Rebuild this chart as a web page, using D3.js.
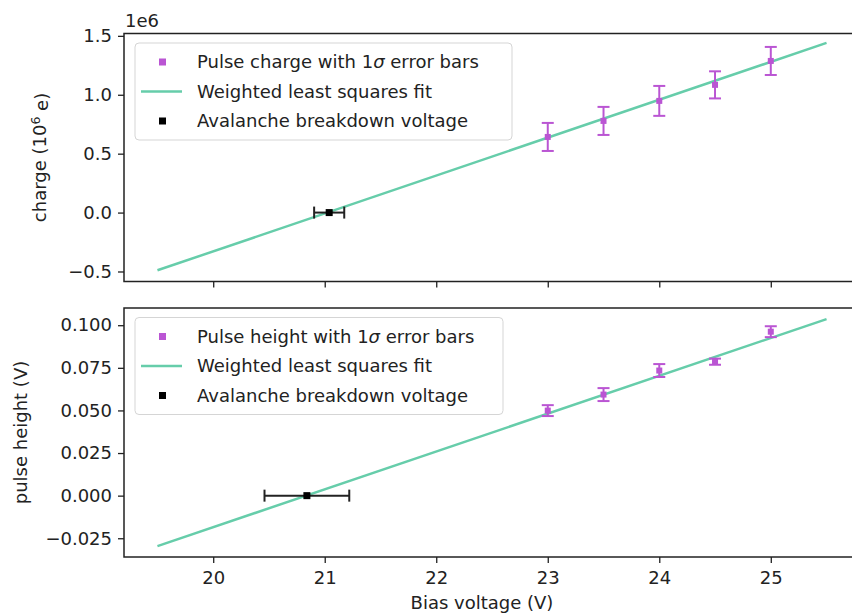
<!DOCTYPE html>
<html>
<head>
<meta charset="utf-8">
<script src="https://cdn.jsdelivr.net/npm/d3@7"></script>
<style>
body { margin: 0; background: #fff; }
text { font-family: "DejaVu Sans", sans-serif; fill: #222; }
</style>
</head>
<body>
<div id="area1"></div>
<script>
// bias voltages (V)
var voltages = [23, 23.5, 24, 24.5, 25];

// top panel: pulse charge in units of 1e6 e
var charge = [0.642, 0.778, 0.948, 1.084, 1.287];
var chargeErr = [0.119, 0.119, 0.127, 0.115, 0.119];
var chargeFitX = [19.5, 25.5];
var chargeFitY = [-0.49, 1.44];
var chargeBreakdown = [21.04];
var chargeBreakdownErr = [0.135];

// bottom panel: pulse height in V
var height = [0.0499, 0.0593, 0.0734, 0.0786, 0.0962];
var heightErr = [0.0032, 0.0038, 0.0038, 0.0018, 0.0032];
var heightFitX = [19.5, 25.5];
var heightFitY = [-0.0296, 0.1036];
var heightBreakdown = [20.84];
var heightBreakdownErr = [0.38];

var xTicks = [20, 21, 22, 23, 24, 25];
var chargeTicks = [-0.5, 0.0, 0.5, 1.0, 1.5];
var heightTicks = [-0.025, 0.000, 0.025, 0.050, 0.075, 0.100];

var legendTop = ["Pulse charge with 1", "Weighted least squares fit", "Avalanche breakdown voltage"];
var legendBottom = ["Pulse height with 1", "Weighted least squares fit", "Avalanche breakdown voltage"];

var purple = "#ba55d3";
var green = "#66cdaa";
var ink = "#222";

var svg = d3.select("#area1")
	.append("svg")
	.attr("width", 852)
	.attr("height", 615);

var x = d3.scaleLinear().domain([19.2, 25.8]).range([124, 860]);

function panel(top, bottom, yDomain, ticks, fmt, ys, errs, fitY, bx, bxErr, legendText) {
	var y = d3.scaleLinear().domain(yDomain).range([bottom, top]);
	var g = svg.append("g");

	// y axis
	var ya = g.append("g")
		.attr("transform", "translate(124,0)")
		.call(d3.axisLeft(y).tickValues(ticks).tickFormat(fmt).tickSize(6).tickPadding(6));
	// x axis ticks
	var xa = g.append("g")
		.attr("transform", "translate(0," + bottom + ")")
		.call(d3.axisBottom(x).tickValues(xTicks).tickFormat(d3.format("d")).tickSize(6).tickPadding(8));
	[ya, xa].forEach(function(a) {
		a.select(".domain").remove();
		a.selectAll("line").attr("stroke", ink).attr("stroke-width", 1.3);
		a.selectAll("text").style("font-size", "18px").attr("fill", ink);
	});
	if (legendText[0].indexOf("charge") > -1) {
		xa.selectAll("text").remove();
	}

	// fit line
	g.append("path")
		.datum(d3.zip(chargeFitX, fitY))
		.attr("d", d3.line().x(function(d) { return x(d[0]); }).y(function(d) { return y(d[1]); }))
		.attr("fill", "none")
		.attr("stroke", green)
		.attr("stroke-width", 2.5);

	// error bars for data
	var pts = d3.zip(voltages, ys, errs);
	var eb = g.selectAll(".eb").data(pts).enter().append("g");
	eb.append("line")
		.attr("x1", function(d) { return x(d[0]); })
		.attr("x2", function(d) { return x(d[0]); })
		.attr("y1", function(d) { return y(d[1] - d[2]); })
		.attr("y2", function(d) { return y(d[1] + d[2]); })
		.attr("stroke", purple).attr("stroke-width", 2);
	[-1, 1].forEach(function(s) {
		eb.append("line")
			.attr("x1", function(d) { return x(d[0]) - 6; })
			.attr("x2", function(d) { return x(d[0]) + 6; })
			.attr("y1", function(d) { return y(d[1] + s * d[2]); })
			.attr("y2", function(d) { return y(d[1] + s * d[2]); })
			.attr("stroke", purple).attr("stroke-width", 2);
	});
	eb.append("rect")
		.attr("x", function(d) { return x(d[0]) - 3; })
		.attr("y", function(d) { return y(d[1]) - 3; })
		.attr("width", 6).attr("height", 6)
		.attr("fill", purple);

	// breakdown voltage point
	var bd = g.selectAll(".bd").data(d3.zip(bx, bxErr)).enter().append("g");
	bd.append("line")
		.attr("x1", function(d) { return x(d[0] - d[1]); })
		.attr("x2", function(d) { return x(d[0] + d[1]); })
		.attr("y1", y(0)).attr("y2", y(0))
		.attr("stroke", ink).attr("stroke-width", 2);
	[-1, 1].forEach(function(s) {
		bd.append("line")
			.attr("x1", function(d) { return x(d[0] + s * d[1]); })
			.attr("x2", function(d) { return x(d[0] + s * d[1]); })
			.attr("y1", y(0) - 6).attr("y2", y(0) + 6)
			.attr("stroke", ink).attr("stroke-width", 2);
	});
	bd.append("rect")
		.attr("x", function(d) { return x(d[0]) - 3.5; })
		.attr("y", y(0) - 3.5)
		.attr("width", 7).attr("height", 7)
		.attr("fill", "#000");

	// frame
	g.append("rect")
		.attr("x", 124).attr("y", top)
		.attr("width", x.range()[1] - 124).attr("height", bottom - top)
		.attr("fill", "none").attr("stroke", ink).attr("stroke-width", 1.5);

	// legend
	var lg = g.append("g").attr("transform", "translate(135," + (top + 9.5) + ")");
	var lw = legendText[0].indexOf("charge") > -1 ? 377 : 368;
	lg.append("rect")
		.attr("width", lw).attr("height", 97).attr("rx", 4)
		.attr("fill", "#fff").attr("fill-opacity", 0.8)
		.attr("stroke", "#d5d5d5");
	var rows = lg.selectAll(".row").data(legendText).enter().append("g")
		.attr("transform", function(d, i) { return "translate(0," + (19 + i * 29.5) + ")"; });
	rows.append("text")
		.attr("x", 62).attr("dy", "0.35em")
		.style("font-size", "18px")
		.text(function(d) { return d; })
		.filter(function(d, i) { return i == 0; })
		.each(function() {
			var t = d3.select(this);
			t.append("tspan").style("font-style", "italic").text("\u03c3");
			t.append("tspan").text(" error bars");
		});
	rows.filter(function(d, i) { return i == 0; }).append("rect")
		.attr("x", 24).attr("y", -3.5).attr("width", 7).attr("height", 7).attr("fill", purple);
	rows.filter(function(d, i) { return i == 1; }).append("line")
		.attr("x1", 6).attr("x2", 47).attr("stroke", green).attr("stroke-width", 2.5);
	rows.filter(function(d, i) { return i == 2; }).append("rect")
		.attr("x", 24).attr("y", -3.5).attr("width", 7).attr("height", 7).attr("fill", "#000");

	return y;
}

var yTop = panel(33.5, 281.5, [-0.585, 1.52], chargeTicks, d3.format(".1f"),
	charge, chargeErr, chargeFitY, chargeBreakdown, chargeBreakdownErr, legendTop);
var yBot = panel(308, 557, [-0.036, 0.1101], heightTicks, d3.format(".3f"),
	height, heightErr, heightFitY, heightBreakdown, heightBreakdownErr, legendBottom);

// offset text
svg.append("text").attr("x", 125).attr("y", 27).style("font-size", "18px").text("1e6");

// axis labels
var cl = svg.append("text")
	.attr("transform", "translate(46,157.5) rotate(-90)")
	.attr("text-anchor", "middle")
	.style("font-size", "18px")
	.text("charge (10");
cl.append("tspan").attr("dy", "-0.45em").style("font-size", "12.5px").text("6");
cl.append("tspan").attr("dy", "0.45em").text(" e)");

svg.append("text")
	.attr("transform", "translate(27,432.5) rotate(-90)")
	.attr("text-anchor", "middle")
	.style("font-size", "18px")
	.text("pulse height (V)");

svg.append("text")
	.attr("x", 482).attr("y", 609)
	.attr("text-anchor", "middle")
	.style("font-size", "18px")
	.text("Bias voltage (V)");
</script>
</body>
</html>
